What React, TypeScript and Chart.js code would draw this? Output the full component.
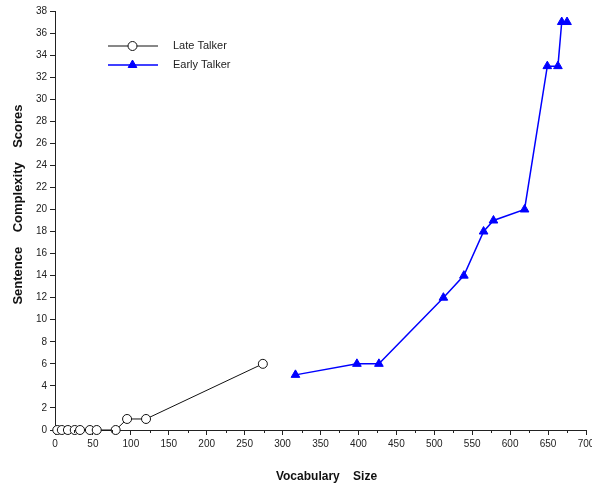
import React, { useEffect, useRef } from 'react';
import { Chart, registerables } from 'chart.js';

Chart.register(...registerables);

// Vocabulary size vs. sentence complexity, per child group
const lateVocab = [3, 9, 17, 26, 33, 46, 55, 80, 95, 120, 274];
const lateScores = [0, 0, 0, 0, 0, 0, 0, 0, 1, 1, 6];
const earlyVocab = [317, 398, 427, 512, 539, 565, 578, 619, 649, 663, 668, 675];
const earlyScores = [5, 6, 6, 12, 14, 18, 19, 20, 33, 33, 37, 37];
const seriesNames = ['Late Talker', 'Early Talker'];
const xTitle = 'Vocabulary    Size';
const yTitle = 'Sentence    Complexity    Scores';
const xRange = [0, 700];
const yRange = [0, 38];

const FONT = "'Liberation Sans', Arial, Helvetica, sans-serif";
const BLUE = '#0000ff';
const AXIS = '#222222';

// Short minor ticks halfway between the labelled x ticks
const minorTicks = {
  id: 'minorTicks',
  afterDraw(chart: any) {
    const { ctx, scales } = chart;
    const x = scales.x;
    const y0 = chart.chartArea.bottom;
    ctx.save();
    ctx.strokeStyle = AXIS;
    ctx.lineWidth = 1;
    for (let v = xRange[0] + 25; v < xRange[1]; v += 50) {
      const px = Math.round(x.getPixelForValue(v)) + 0.5;
      ctx.beginPath();
      ctx.moveTo(px, y0);
      ctx.lineTo(px, y0 + 3);
      ctx.stroke();
    }
    ctx.restore();
  },
};

// Axis titles, placed relative to the plot area
const axisTitles = {
  id: 'axisTitles',
  afterDraw(chart: any) {
    const { ctx, chartArea } = chart;
    ctx.save();
    ctx.fillStyle = '#111';
    ctx.textAlign = 'center';
    ctx.textBaseline = 'middle';
    ctx.font = `bold 12px ${FONT}`;
    ctx.fillText(xTitle, (chartArea.left + chartArea.right) / 2 + 6, 477);
    ctx.translate(18, (chartArea.top + chartArea.bottom) / 2 - 16);
    ctx.rotate(-Math.PI / 2);
    ctx.font = `bold 13px ${FONT}`;
    ctx.fillText(yTitle, 0, 0);
    ctx.restore();
  },
};

// Legend drawn inside the plot, upper left
const insideLegend = {
  id: 'insideLegend',
  afterDraw(chart: any) {
    const { ctx } = chart;
    const x1 = 108;
    const x2 = 158;
    const mid = (x1 + x2) / 2 - 0.5;
    const rows = [46, 65];
    ctx.save();
    chart.data.datasets.forEach((ds: any, i: number) => {
      const y = rows[i];
      ctx.strokeStyle = ds.borderColor;
      ctx.lineWidth = ds.borderWidth;
      ctx.beginPath();
      ctx.moveTo(x1, y);
      ctx.lineTo(x2, y);
      ctx.stroke();
      ctx.fillStyle = ds.pointBackgroundColor;
      ctx.strokeStyle = ds.pointBorderColor;
      ctx.lineWidth = ds.pointBorderWidth;
      ctx.beginPath();
      if (ds.pointStyle === 'triangle') {
        const r = ds.pointRadius;
        for (let k = 0; k < 3; k++) {
          const a = (k * 2 * Math.PI) / 3;
          const px = mid + Math.sin(a) * r;
          const py = y - Math.cos(a) * r;
          if (k === 0) ctx.moveTo(px, py);
          else ctx.lineTo(px, py);
        }
        ctx.closePath();
      } else {
        ctx.arc(mid, y, ds.pointRadius, 0, Math.PI * 2);
      }
      ctx.fill();
      ctx.stroke();
      ctx.fillStyle = '#222';
      ctx.font = `11px ${FONT}`;
      ctx.textBaseline = 'middle';
      ctx.textAlign = 'left';
      ctx.fillText(ds.label, 173, y);
    });
    ctx.restore();
  },
};

export default function App() {
  const canvasRef = useRef<HTMLCanvasElement | null>(null);

  useEffect(() => {
    const canvas = canvasRef.current;
    if (!canvas) return;
    const chart = new Chart(canvas, {
      type: 'scatter',
      data: {
        datasets: [
          {
            label: seriesNames[0],
            data: lateVocab.map((v, i) => ({ x: v, y: lateScores[i] })),
            showLine: true,
            borderColor: '#111111',
            borderWidth: 1,
            pointStyle: 'circle',
            pointRadius: 4.5,
            pointBackgroundColor: '#ffffff',
            pointBorderColor: '#111111',
            pointBorderWidth: 1,
            clip: false,
          },
          {
            label: seriesNames[1],
            data: earlyVocab.map((v, i) => ({ x: v, y: earlyScores[i] })),
            showLine: true,
            borderColor: BLUE,
            borderWidth: 1.5,
            pointStyle: 'triangle',
            pointRadius: 5,
            pointBackgroundColor: BLUE,
            pointBorderColor: BLUE,
            pointBorderWidth: 1,
            clip: false,
          },
        ],
      },
      options: {
        responsive: false,
        animation: false,
        layout: { padding: { top: 11, right: 4, bottom: 0, left: 0 } },
        plugins: {
          legend: { display: false },
          tooltip: { enabled: false },
        },
        scales: {
          x: {
            type: 'linear',
            min: xRange[0],
            max: xRange[1],
            ticks: {
              stepSize: 50,
              color: '#222',
              font: { family: FONT, size: 10 },
              padding: 3,
              maxRotation: 0,
              autoSkip: false,
            },
            grid: {
              drawOnChartArea: false,
              drawTicks: true,
              tickLength: 5,
              tickColor: AXIS,
            },
            border: { display: true, color: AXIS, width: 1 },
            afterFit(scale: any) {
              scale.height = 56;
              scale.paddingLeft = 0;
              scale.paddingRight = 0;
            },
          },
          y: {
            type: 'linear',
            min: yRange[0],
            max: yRange[1],
            ticks: {
              stepSize: 2,
              color: '#222',
              font: { family: FONT, size: 10 },
              padding: 3,
              autoSkip: false,
            },
            grid: {
              drawOnChartArea: false,
              drawTicks: true,
              tickLength: 5,
              tickColor: AXIS,
            },
            border: { display: true, color: AXIS, width: 1 },
            afterFit(scale: any) {
              scale.width = 55;
            },
          },
        },
      },
      plugins: [minorTicks, axisTitles, insideLegend],
    });
    return () => chart.destroy();
  }, []);

  return (
    <div style={{ position: 'fixed', left: 0, top: 0, width: 592, height: 486, background: '#fff' }}>
      <canvas ref={canvasRef} width={592} height={486} />
    </div>
  );
}
